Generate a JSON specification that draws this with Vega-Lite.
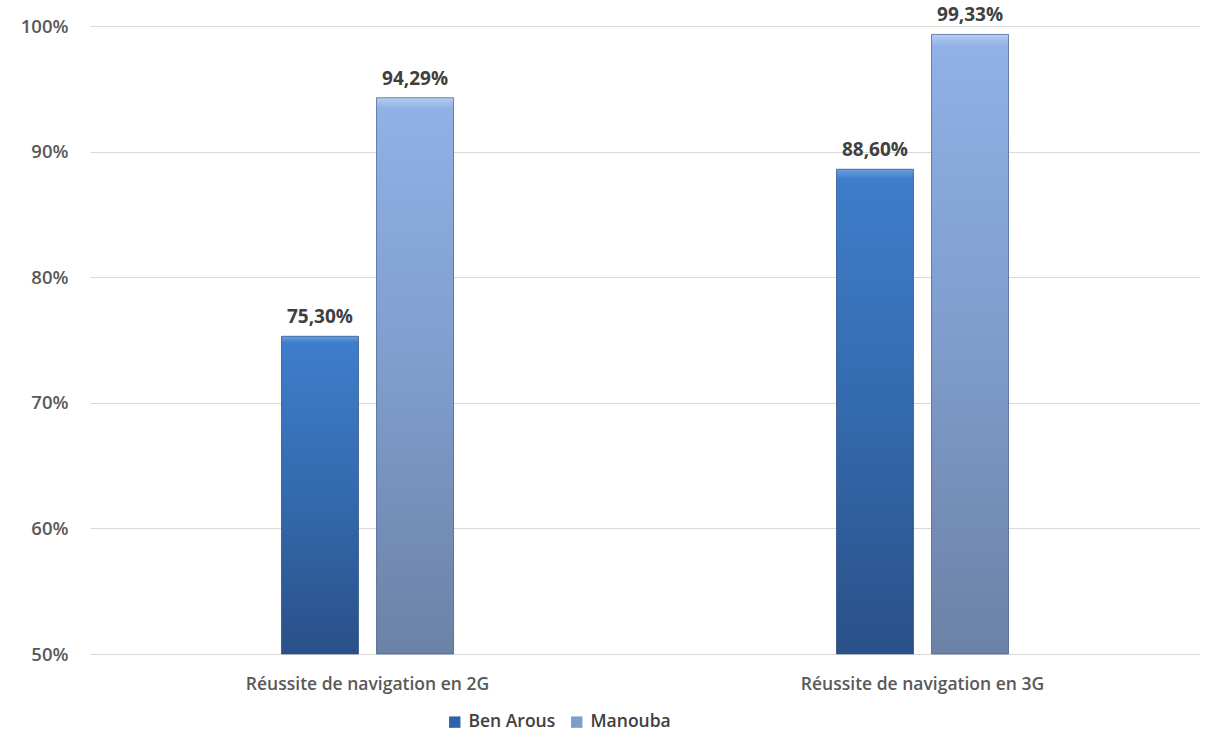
{
  "$schema": "https://vega.github.io/schema/vega-lite/v6.json",
  "width": 1216,
  "height": 749,
  "autosize": {"type": "fit", "contains": "padding"},
  "padding": {"left": 20, "right": 16, "top": 8, "bottom": 56},
  "background": "white",
  "config": {
    "view": {"stroke": null},
    "font": "Open Sans",
    "locale": {"number": {"decimal": ",", "thousands": " ", "grouping": [3], "currency": ["", " €"]}}
  },
  "data": {
    "values": [
      {"cat": "Réussite de navigation en 2G", "series": "Ben Arous", "value": 0.7530},
      {"cat": "Réussite de navigation en 2G", "series": "Manouba", "value": 0.9429},
      {"cat": "Réussite de navigation en 3G", "series": "Ben Arous", "value": 0.8860},
      {"cat": "Réussite de navigation en 3G", "series": "Manouba", "value": 0.9933}
    ]
  },
  "encoding": {
    "x": {
      "field": "cat", "type": "nominal", "sort": null,
      "scale": {"paddingInner": 0.69, "paddingOuter": 0.345},
      "axis": {"title": null, "labelAngle": 0, "ticks": false, "domain": false, "labelPadding": 21, "labelLimit": 0,
               "labelFontSize": 17.5, "labelFontWeight": 600, "labelColor": "#595959"}
    },
    "xOffset": {
      "field": "series", "type": "nominal", "sort": ["Ben Arous", "Manouba"],
      "scale": {"paddingInner": 0.19, "paddingOuter": 0}
    },
    "y": {
      "field": "value", "type": "quantitative",
      "scale": {"domain": [0.5, 1.0], "zero": false, "nice": false},
      "axis": {"title": null, "format": ".0%", "values": [0.5, 0.6, 0.7, 0.8, 0.9, 1.0],
               "ticks": false, "domain": false, "gridColor": "#d9d9d9", "gridWidth": 1,
               "labelPadding": 22, "labelFontSize": 18.5, "labelFontWeight": 600, "labelColor": "#595959"}
    },
    "y2": {"datum": 0.5}
  },
  "layer": [
    {
      "mark": {"type": "bar"},
      "encoding": {
        "color": {
          "field": "series", "type": "nominal", "sort": ["Ben Arous", "Manouba"],
          "scale": {"domain": ["Ben Arous", "Manouba"], "range": ["#2f64aa", "#7f9ccf"]},
          "legend": {"title": null, "orient": "none", "legendX": 356, "legendY": 687, "direction": "horizontal", "symbolType": "square",
                     "symbolSize": 130, "symbolStrokeWidth": 0, "labelFontSize": 17.5, "labelFontWeight": 600,
                     "labelColor": "#404040", "columnPadding": 12, "labelOffset": 5}
        }
      }
    },
    {
      "mark": {"type": "bar", "stroke": "#2b4a78", "strokeOpacity": 0.55, "strokeWidth": 1},
      "encoding": {
        "color": {
          "condition": {
            "test": "datum.series === 'Ben Arous'",
            "value": {"gradient": "linear", "x1": 0, "y1": 0, "x2": 0, "y2": 1,
                      "stops": [{"offset": 0, "color": "#6d9ee0"}, {"offset": 0.02, "color": "#3f7dca"},
                                {"offset": 0.5, "color": "#346aae"}, {"offset": 1, "color": "#2a5088"}]}
          },
          "value": {"gradient": "linear", "x1": 0, "y1": 0, "x2": 0, "y2": 1,
                    "stops": [{"offset": 0, "color": "#b4ccf0"}, {"offset": 0.02, "color": "#8fb1e5"},
                              {"offset": 0.5, "color": "#7f9ccc"}, {"offset": 1, "color": "#6c82a6"}]}
        }
      }
    },
    {
      "mark": {"type": "text", "dy": -19, "baseline": "middle", "fontSize": 19, "fontWeight": "bold", "color": "#404040"},
      "encoding": {
        "text": {"field": "value", "type": "quantitative", "format": ".2%"}
      }
    }
  ]
}
